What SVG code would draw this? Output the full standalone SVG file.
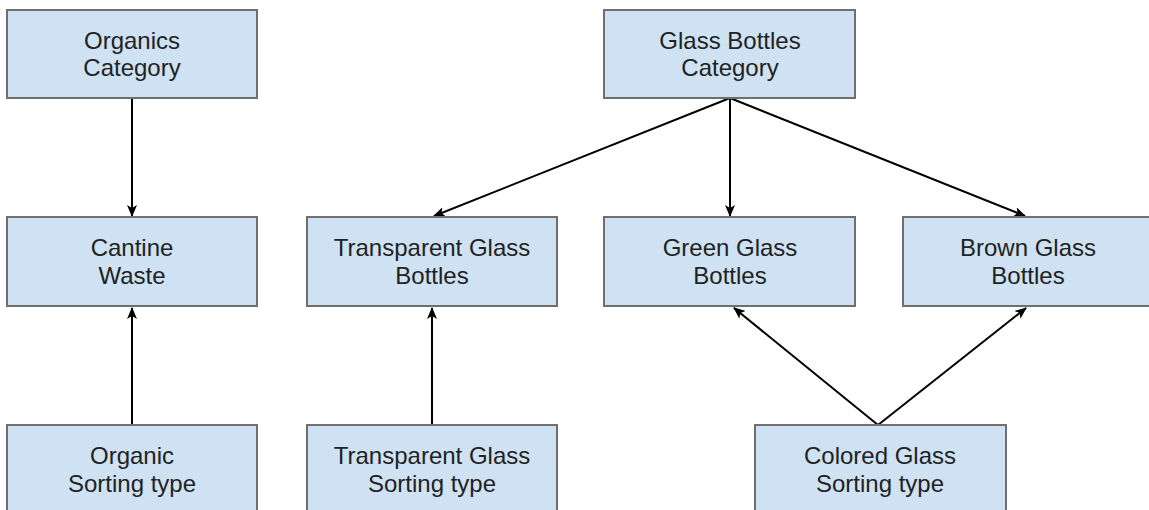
<svg xmlns="http://www.w3.org/2000/svg" width="1149" height="510" viewBox="0 0 1149 510">
<style>
.box{fill:#cfe2f3;stroke:#6f6f6f;stroke-width:2}
.t{font-family:"Liberation Sans",Arial,sans-serif;font-size:24px;fill:#222;text-anchor:middle}
.c{stroke:#000;stroke-width:2;fill:none;marker-end:url(#ah)}
</style>
<defs>
<marker id="ah" viewBox="0 0 12 10" refX="11" refY="5" markerWidth="12" markerHeight="10" markerUnits="userSpaceOnUse" orient="auto">
<path d="M0,0 L12,5 L0,10 L3,5 Z" fill="#000"/>
</marker>
</defs>
<rect width="1149" height="510" fill="#fff"/>
<g id="connectors">
<line class="c" x1="132" y1="98" x2="132" y2="216"/>
<line class="c" x1="730" y1="98" x2="434" y2="216"/>
<line class="c" x1="730" y1="98" x2="730" y2="216"/>
<line class="c" x1="730" y1="98" x2="1025" y2="216"/>
<line class="c" x1="132" y1="425" x2="132" y2="308"/>
<line class="c" x1="432" y1="425" x2="432" y2="308"/>
<line class="c" x1="878" y1="425" x2="734" y2="308"/>
<line class="c" x1="878" y1="425" x2="1026" y2="308"/>
</g>
<g id="organics-category"><rect class="box" x="7" y="10" width="250" height="88"/><text class="t" x="132" y="49">Organics</text><text class="t" x="132" y="76">Category</text></g>
<g id="glass-bottles-category"><rect class="box" x="604" y="10" width="251" height="88"/><text class="t" x="730" y="49">Glass Bottles</text><text class="t" x="730" y="76">Category</text></g>
<g id="cantine-waste"><rect class="box" x="7" y="217" width="250" height="89"/><text class="t" x="132" y="256">Cantine</text><text class="t" x="132" y="284">Waste</text></g>
<g id="transparent-glass-bottles"><rect class="box" x="307" y="217" width="250" height="89"/><text class="t" x="432" y="256">Transparent Glass</text><text class="t" x="432" y="284">Bottles</text></g>
<g id="green-glass-bottles"><rect class="box" x="604" y="217" width="251" height="89"/><text class="t" x="730" y="256">Green Glass</text><text class="t" x="730" y="284">Bottles</text></g>
<g id="brown-glass-bottles"><rect class="box" x="903" y="217" width="250" height="89"/><text class="t" x="1028" y="256">Brown Glass</text><text class="t" x="1028" y="284">Bottles</text></g>
<g id="organic-sorting-type"><rect class="box" x="7" y="425" width="250" height="95"/><text class="t" x="132" y="464">Organic</text><text class="t" x="132" y="492">Sorting type</text></g>
<g id="transparent-glass-sorting-type"><rect class="box" x="307" y="425" width="250" height="95"/><text class="t" x="432" y="464">Transparent Glass</text><text class="t" x="432" y="492">Sorting type</text></g>
<g id="colored-glass-sorting-type"><rect class="box" x="755" y="425" width="251" height="95"/><text class="t" x="880" y="464">Colored Glass</text><text class="t" x="880" y="492">Sorting type</text></g>
</svg>
